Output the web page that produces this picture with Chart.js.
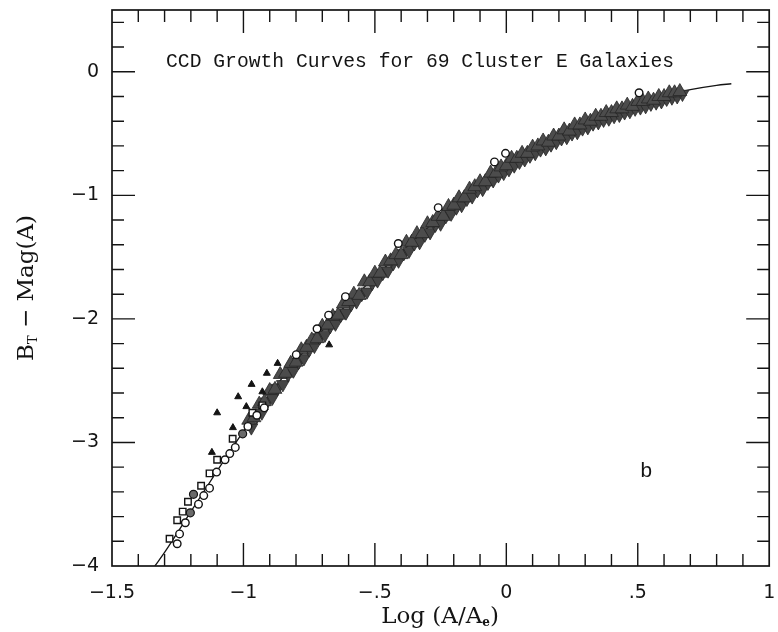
<!DOCTYPE html>
<html>
<head>
<meta charset="utf-8">
<script src="https://cdn.jsdelivr.net/npm/chart.js@4.4.1/dist/chart.umd.min.js"></script>
<style>
  html, body { margin: 0; padding: 0; background: #fff; }
</style>
</head>
<body>
<canvas id="growth" width="778" height="632"></canvas>
<script>
// axis ticks
const xTicks = [-1.5, -1, -0.5, 0, 0.5, 1];
const xTickLabels = ['\u22121.5', '\u22121', '\u2212.5', '0', '.5', '1'];
const yTicks = [0, -1, -2, -3, -4];
const yTickLabels = ['0', '\u22121', '\u22122', '\u22123', '\u22124'];

// standard growth curve, [log(A/Ae), BT - Mag(A)]
const fitCurve = [
  [-1.337, -4.0], [-1.3, -3.89], [-1.2, -3.56], [-1.1, -3.23], [-1.0, -2.91],
  [-0.9, -2.61], [-0.8, -2.34], [-0.7, -2.095], [-0.6, -1.87], [-0.5, -1.66],
  [-0.4, -1.46], [-0.3, -1.265], [-0.2, -1.08], [-0.1, -0.91], [0.0, -0.755],
  [0.1, -0.625], [0.2, -0.515], [0.3, -0.41], [0.4, -0.325], [0.5, -0.255],
  [0.6, -0.195], [0.7, -0.145], [0.8, -0.11], [0.856, -0.097]
];

// dense run of galaxy profiles along the curve
const bandFront = [
  [-0.98, -2.82], [-0.96, -2.80], [-0.94, -2.69], [-0.92, -2.67], [-0.90, -2.58],
  [-0.88, -2.57], [-0.86, -2.45], [-0.84, -2.44], [-0.82, -2.36], [-0.80, -2.35],
  [-0.78, -2.25], [-0.76, -2.23], [-0.74, -2.17], [-0.72, -2.16], [-0.70, -2.06],
  [-0.68, -2.05], [-0.66, -1.98], [-0.64, -1.97], [-0.62, -1.88], [-0.60, -1.86],
  [-0.58, -1.80], [-0.56, -1.81], [-0.54, -1.70], [-0.52, -1.70], [-0.50, -1.63],
  [-0.48, -1.63], [-0.46, -1.54], [-0.44, -1.53], [-0.42, -1.48], [-0.40, -1.48],
  [-0.38, -1.38], [-0.36, -1.38], [-0.34, -1.31], [-0.32, -1.31], [-0.30, -1.23],
  [-0.28, -1.22], [-0.26, -1.17], [-0.24, -1.17], [-0.22, -1.09], [-0.20, -1.08],
  [-0.18, -1.02], [-0.16, -1.02], [-0.14, -0.95], [-0.12, -0.93], [-0.10, -0.89],
  [-0.08, -0.89], [-0.06, -0.82], [-0.04, -0.82], [-0.02, -0.77], [0.00, -0.76],
  [0.02, -0.70], [0.04, -0.70], [0.06, -0.66], [0.08, -0.66], [0.10, -0.61],
  [0.12, -0.60], [0.14, -0.56], [0.16, -0.57], [0.18, -0.52], [0.20, -0.52],
  [0.22, -0.47], [0.24, -0.48], [0.26, -0.43], [0.28, -0.43], [0.30, -0.39],
  [0.32, -0.40], [0.34, -0.36], [0.36, -0.36], [0.38, -0.33], [0.40, -0.33],
  [0.42, -0.30], [0.44, -0.30], [0.46, -0.27], [0.48, -0.28], [0.50, -0.24],
  [0.52, -0.24], [0.54, -0.22], [0.56, -0.23], [0.58, -0.20], [0.60, -0.20],
  [0.62, -0.17], [0.64, -0.17], [0.66, -0.16]
];
const bandBack = [
  [-0.97, -2.88], [-0.95, -2.79], [-0.93, -2.76], [-0.91, -2.67], [-0.89, -2.64],
  [-0.87, -2.56], [-0.85, -2.53], [-0.83, -2.45], [-0.81, -2.42], [-0.79, -2.35],
  [-0.77, -2.32], [-0.75, -2.25], [-0.73, -2.22], [-0.71, -2.15], [-0.69, -2.13],
  [-0.67, -2.06], [-0.65, -2.04], [-0.63, -1.97], [-0.61, -1.95], [-0.59, -1.88],
  [-0.57, -1.86], [-0.55, -1.80], [-0.53, -1.78], [-0.51, -1.71], [-0.49, -1.69],
  [-0.47, -1.63], [-0.45, -1.61], [-0.43, -1.55], [-0.41, -1.53], [-0.39, -1.47],
  [-0.37, -1.45], [-0.35, -1.39], [-0.33, -1.38], [-0.31, -1.32], [-0.29, -1.30],
  [-0.27, -1.24], [-0.25, -1.23], [-0.23, -1.17], [-0.21, -1.15], [-0.19, -1.10],
  [-0.17, -1.08], [-0.15, -1.03], [-0.13, -1.01], [-0.11, -0.96], [-0.09, -0.95],
  [-0.07, -0.90], [-0.05, -0.88], [-0.03, -0.84], [-0.01, -0.82], [0.01, -0.79],
  [0.03, -0.76], [0.05, -0.73], [0.07, -0.71], [0.09, -0.68], [0.11, -0.66],
  [0.13, -0.63], [0.15, -0.62], [0.17, -0.59], [0.19, -0.57], [0.21, -0.54],
  [0.23, -0.53], [0.25, -0.50], [0.27, -0.49], [0.29, -0.46], [0.31, -0.45],
  [0.33, -0.42], [0.35, -0.41], [0.37, -0.39], [0.39, -0.38], [0.41, -0.36],
  [0.43, -0.35], [0.45, -0.33], [0.47, -0.32], [0.49, -0.30], [0.51, -0.29],
  [0.53, -0.28], [0.55, -0.26], [0.57, -0.25], [0.59, -0.24], [0.61, -0.22],
  [0.63, -0.21], [0.65, -0.20], [0.67, -0.18]
];

// individual points off the main run
const triangles = [
  [-1.120, -3.08], [-1.100, -2.76], [-1.040, -2.88], [-1.020, -2.63], [-0.989, -2.71],
  [-0.969, -2.53], [-0.928, -2.59], [-0.911, -2.44], [-0.870, -2.36], [-0.674, -2.21]
];
const squares = [
  [-1.281, -3.78], [-1.252, -3.63], [-1.231, -3.56], [-1.211, -3.48], [-1.161, -3.35],
  [-1.129, -3.25], [-1.100, -3.14], [-1.041, -2.97], [-0.966, -2.76], [-0.928, -2.70]
];
const circles = [
  [-1.252, -3.82], [-1.243, -3.74], [-1.221, -3.65], [-1.171, -3.50], [-1.151, -3.43],
  [-1.129, -3.37], [-1.102, -3.24], [-1.070, -3.14], [-1.052, -3.09], [-1.031, -3.04],
  [-0.983, -2.87], [-0.949, -2.78], [-0.921, -2.72], [-0.799, -2.29], [-0.720, -2.08],
  [-0.676, -1.97], [-0.612, -1.82], [-0.411, -1.39], [-0.259, -1.10], [-0.045, -0.73],
  [-0.003, -0.66], [0.505, -0.17]
];
const greyDots = [[-1.202, -3.57], [-1.190, -3.42], [-1.003, -2.93]];

const pts = arr => arr.map(([x, y]) => ({ x, y }));

const INK = '#141414';

// draw a line of text made of runs (for subscripts), centred on 0
function drawRuns(ctx, runs) {
  let total = 0;
  runs.forEach(r => { ctx.font = r.font; r.w = ctx.measureText(r.text).width; total += r.w; });
  let x = -total / 2;
  runs.forEach(r => {
    ctx.font = r.font;
    ctx.fillText(r.text, x, r.dy || 0);
    x += r.w;
  });
}

// keep label overhang from shrinking the plot box
function fixedBox(size) {
  return s => {
    if (s.isHorizontal()) s.height = size; else s.width = size;
    s.paddingTop = s.paddingBottom = s.paddingLeft = s.paddingRight = 0;
  };
}

const frameAndLabels = {
  id: 'frameAndLabels',
  afterDraw(chart) {
    const { ctx, chartArea: a, scales: { x, y } } = chart;
    ctx.save();
    ctx.strokeStyle = INK;
    ctx.lineWidth = 1.7;
    ctx.strokeRect(a.left, a.top, a.right - a.left, a.bottom - a.top);

    // inward ticks on all four sides
    ctx.lineWidth = 1.4;
    ctx.beginPath();
    for (let i = -14; i <= 9; i++) {
      const px = x.getPixelForValue(i / 10);
      const len = i % 5 === 0 ? 23 : 12;
      ctx.moveTo(px, a.bottom); ctx.lineTo(px, a.bottom - len);
      ctx.moveTo(px, a.top); ctx.lineTo(px, a.top + len);
    }
    for (let i = -19; i <= 2; i++) {
      const py = y.getPixelForValue(i / 5);
      const len = i % 5 === 0 ? 23 : 12;
      ctx.moveTo(a.left, py); ctx.lineTo(a.left + len, py);
      ctx.moveTo(a.right, py); ctx.lineTo(a.right - len, py);
    }
    ctx.stroke();

    ctx.fillStyle = INK;
    ctx.textBaseline = 'alphabetic';
    ctx.textAlign = 'left';

    // caption inside the frame
    ctx.font = '19.7px "Liberation Mono"';
    ctx.fillText('CCD Growth Curves for 69 Cluster E Galaxies', 166, 67);
    ctx.font = '21px "Liberation Mono"';
    ctx.fillText('b', 640, 477);

    // x axis title
    ctx.save();
    ctx.translate(440, 623);
    drawRuns(ctx, [
      { text: 'Log (A/A', font: '23px "DejaVu Serif"' },
      { text: 'e', font: 'bold 12px "DejaVu Serif"', dy: 3 },
      { text: ')', font: '23px "DejaVu Serif"' }
    ]);
    ctx.restore();

    // y axis title
    ctx.save();
    ctx.translate(33, 288);
    ctx.rotate(-Math.PI / 2);
    drawRuns(ctx, [
      { text: 'B', font: '23px "DejaVu Serif"' },
      { text: 'T', font: '13px "DejaVu Serif"', dy: 4 },
      { text: ' \u2212 Mag(A)', font: '23px "DejaVu Serif"' }
    ]);
    ctx.restore();
    ctx.restore();
  }
};

new Chart(document.getElementById('growth'), {
  type: 'scatter',
  data: {
    datasets: [
      {
        label: 'fit',
        data: pts(fitCurve),
        showLine: true,
        borderColor: INK,
        borderWidth: 1.3,
        pointRadius: 0,
        cubicInterpolationMode: 'monotone',
        order: 9
      },
      {
        label: 'band back',
        data: pts(bandBack),
        pointStyle: 'triangle',
        pointRotation: 180,
        pointRadius: 7.5,
        backgroundColor: '#454545',
        borderColor: '#262626',
        borderWidth: 0.8,
        order: 8
      },
      {
        label: 'band front',
        data: pts(bandFront),
        pointStyle: 'triangle',
        pointRadius: 8,
        backgroundColor: '#4c4c4c',
        borderColor: '#262626',
        borderWidth: 0.8,
        order: 7
      },
      {
        label: 'squares',
        data: pts(squares),
        pointStyle: 'rect',
        pointRadius: 4.6,
        backgroundColor: '#ffffff',
        borderColor: INK,
        borderWidth: 1.4,
        order: 6
      },
      {
        label: 'circles',
        data: pts(circles),
        pointStyle: 'circle',
        pointRadius: 3.8,
        backgroundColor: '#ffffff',
        borderColor: INK,
        borderWidth: 1.4,
        order: 5
      },
      {
        label: 'grey',
        data: pts(greyDots),
        pointStyle: 'circle',
        pointRadius: 4,
        backgroundColor: '#6a6a6a',
        borderColor: INK,
        borderWidth: 1.2,
        order: 4
      },
      {
        label: 'triangles',
        data: pts(triangles),
        pointStyle: 'triangle',
        pointRadius: 4,
        backgroundColor: INK,
        borderColor: INK,
        borderWidth: 1,
        order: 3
      }
    ]
  },
  plugins: [frameAndLabels],
  options: {
    responsive: false,
    animation: false,
    devicePixelRatio: 1,
    layout: { padding: { top: 10, right: 5, left: 0, bottom: 0 } },
    plugins: { legend: { display: false }, tooltip: { enabled: false } },
    scales: {
      x: {
        type: 'linear',
        min: -1.5,
        max: 1,
        afterBuildTicks: s => { s.ticks = xTicks.map(v => ({ value: v })); },
        afterFit: fixedBox(66),
        grid: { display: false, drawTicks: false },
        border: { display: false },
        ticks: {
          callback: (v, i) => xTickLabels[i],
          font: { family: 'DejaVu Sans', size: 19 },
          color: INK,
          padding: 16,
          maxRotation: 0,
          autoSkip: false
        }
      },
      y: {
        type: 'linear',
        min: -4,
        max: 0.5,
        afterBuildTicks: s => { s.ticks = yTicks.map(v => ({ value: v })); },
        afterFit: fixedBox(112),
        grid: { display: false, drawTicks: false },
        border: { display: false },
        ticks: {
          callback: (v, i) => yTickLabels[i],
          font: { family: 'DejaVu Sans', size: 19 },
          color: INK,
          padding: 13,
          autoSkip: false
        }
      }
    }
  }
});
</script>
</body>
</html>
